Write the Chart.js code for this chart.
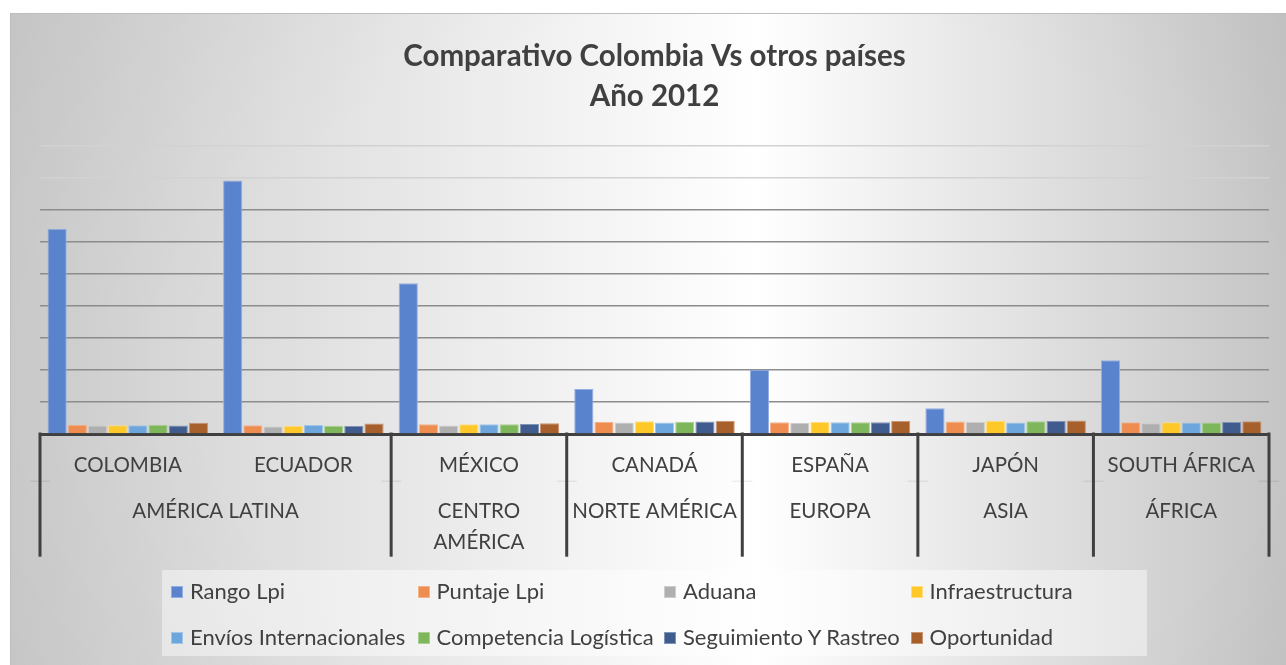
<!DOCTYPE html>
<html><head><meta charset="utf-8">
<script src="https://cdn.jsdelivr.net/npm/chart.js@4.4.1/dist/chart.umd.min.js"></script>
<style>
html,body{margin:0;padding:0;width:1286px;height:665px;overflow:hidden;background:#fff;}
#panel{position:absolute;left:10px;top:13px;width:1290px;height:660px;box-sizing:border-box;border-top:1px solid #bdbdbd;border-left:1px solid #bdbdbd;
background:radial-gradient(ellipse 900px 600px at 740px 360px, rgba(0,0,0,0) 60%, rgba(0,0,0,0.04) 100%),
linear-gradient(to right,#cdcdcd 0%,#ffffff 58%,#c3c3c3 100%);}
#wrap{position:absolute;left:0;top:0;width:1286px;height:665px;}
#legend{position:absolute;left:162px;top:570px;width:985px;height:86px;background:rgba(255,255,255,0.45);font-family:Lato,sans-serif;font-size:22px;color:#404040;}
.item{position:absolute;height:26px;line-height:26px;white-space:nowrap;}
.sw{position:absolute;left:0;top:8px;width:12px;height:12px;box-sizing:border-box;border:1px solid;}
.tx{position:absolute;left:19px;top:0;}
</style></head><body>
<div id="panel"></div>
<div id="wrap"><canvas id="c" width="1286" height="665"></canvas></div>
<div id="legend"></div>
<script>
// ---- data ----
const categories = ['COLOMBIA','ECUADOR','MÉXICO','CANADÁ','ESPAÑA','JAPÓN','SOUTH ÁFRICA'];
const regionLabels = ['AMÉRICA LATINA',['CENTRO','AMÉRICA'],'NORTE AMÉRICA','EUROPA','ASIA','ÁFRICA'];
const regionSpans = [[0,2],[2,3],[3,4],[4,5],[5,6],[6,7]];
const seriesNames = ['Rango Lpi','Puntaje Lpi','Aduana','Infraestructura','Envíos Internacionales','Competencia Logística','Seguimiento Y Rastreo','Oportunidad'];
const rangoLpi              = [64, 79, 47, 14, 20, 8, 23];
const puntajeLpi            = [2.87, 2.76, 3.06, 3.85, 3.70, 3.93, 3.67];
const aduana                = [2.65, 2.36, 2.63, 3.58, 3.40, 3.72, 3.35];
const infraestructura       = [2.72, 2.58, 3.03, 3.99, 3.74, 4.11, 3.70];
const enviosInternacionales = [2.74, 2.80, 3.07, 3.55, 3.68, 3.61, 3.55];
const competenciaLogistica  = [2.92, 2.57, 3.02, 3.85, 3.69, 3.97, 3.56];
const seguimientoRastreo    = [2.64, 2.52, 3.15, 3.86, 3.67, 4.03, 3.78];
const oportunidad           = [3.52, 3.30, 3.35, 4.15, 4.02, 4.21, 3.95];
const yMin = 0, yMax = 90, yStep = 10;

const series = [rangoLpi,puntajeLpi,aduana,infraestructura,enviosInternacionales,competenciaLogistica,seguimientoRastreo,oportunidad];
const fills   = ['#5A83CE','#EE8D4F','#AFAFAF','#FEC828','#6DA6DC','#7EB75B','#405C8F','#A75F2C'];
const borders = ['#93AEE0','#F5B48C','#CDCDCD','#FFDD80','#A2C6EA','#A9D092','#8194B8','#C89472'];

const regionCenters = regionSpans.map(s => (s[0]+s[1])/2);
const boundaries = [regionSpans[0][0]].concat(regionSpans.map(s => s[1]));

const FONT = 'Lato';

const separators = {
  id:'separators',
  afterDraw(chart){
    const ctx = chart.ctx, x2 = chart.scales.x2, x = chart.scales.x, ca = chart.chartArea;
    ctx.save();
    ctx.strokeStyle = 'rgba(0,0,0,0.10)'; ctx.lineWidth = 1;
    boundaries.forEach(b => {
      const px = x2.getPixelForValue(b);
      ctx.beginPath(); ctx.moveTo(px-10, x.bottom+0.5); ctx.lineTo(px+10, x.bottom+0.5); ctx.stroke();
    });
    ctx.strokeStyle = '#404040'; ctx.lineWidth = 3;
    boundaries.forEach(b => {
      const px = x2.getPixelForValue(b);
      ctx.beginPath(); ctx.moveTo(px, ca.bottom-1.5); ctx.lineTo(px, x2.bottom); ctx.stroke();
    });
    ctx.restore();
  }
};

function build(){
  const chart = new Chart(document.getElementById('c').getContext('2d'), {
    type:'bar',
    data:{
      labels: categories,
      datasets: series.map((s,i) => ({
        label: seriesNames[i], data: s,
        backgroundColor: fills[i], borderColor: borders[i], borderWidth: 1,
        categoryPercentage: 0.92, barPercentage: 0.95
      }))
    },
    options:{
      responsive:false, animation:false, devicePixelRatio:1,
      layout:{padding:{left:40,right:17,top:0,bottom:108.3}},
      plugins:{
        legend:{display:false}, tooltip:{enabled:false},
        title:{display:true, text:['Comparativo Colombia Vs otros países','Año 2012'], color:'#404040',
          font:{family:FONT, size:29.5, weight:'bold', lineHeight:1.36}, padding:{top:36.4,bottom:28.7}}
      },
      scales:{
        y:{min:yMin, max:yMax, ticks:{display:false, stepSize:yStep}, border:{display:false},
           grid:{drawTicks:false, lineWidth:1.5,
             color: c => (c.tick && c.tick.value === 0) ? 'rgba(0,0,0,0)' : (c.tick && c.tick.value >= 80 ? '#d2d2d2' : '#8c8c8c')},
           afterFit: s => { s.width = 0; }},
        x:{weight:0, z:1, grid:{display:false, drawTicks:false}, border:{display:true, color:'#404040', width:3},
           ticks:{color:'#404040', font:{family:FONT, size:20.5, lineHeight:1.5}, padding:15.8, maxRotation:0, autoSkip:false},
           afterFit: s => { s.height = 46.7; }},
        x2:{type:'linear', position:'bottom', weight:1, min:0, max:7, offset:false, grid:{display:false, drawTicks:false, offset:false}, border:{display:false},
           ticks:{color:'#404040', font:{family:FONT, size:20.5, lineHeight:1.5}, padding:15.6, maxRotation:0, autoSkip:false,
             callback:(v,i) => regionLabels[i]},
           afterBuildTicks: s => { s.ticks = regionCenters.map(v => ({value:v})); },
           afterFit: s => { s.height = 76; }}
      }
    },
    plugins:[separators]
  });

  const lg = document.getElementById('legend');
  chart.data.datasets.forEach((d,i) => {
    const col = i % 4, row = Math.floor(i / 4);
    const it = document.createElement('div');
    it.className = 'item';
    it.style.left = (9 + col*246.5) + 'px';
    it.style.top = (21 + row*46 - 13) + 'px';
    const sw = document.createElement('span'); sw.className = 'sw';
    sw.style.background = d.backgroundColor; sw.style.borderColor = d.borderColor;
    const tx = document.createElement('span'); tx.className = 'tx'; tx.textContent = d.label;
    it.appendChild(sw); it.appendChild(tx); lg.appendChild(it);
  });
}
if (document.fonts && document.fonts.load) {
  Promise.all([document.fonts.load('bold 29px Lato'), document.fonts.load('20px Lato')]).then(build, build);
} else build();
</script>
</body></html>
